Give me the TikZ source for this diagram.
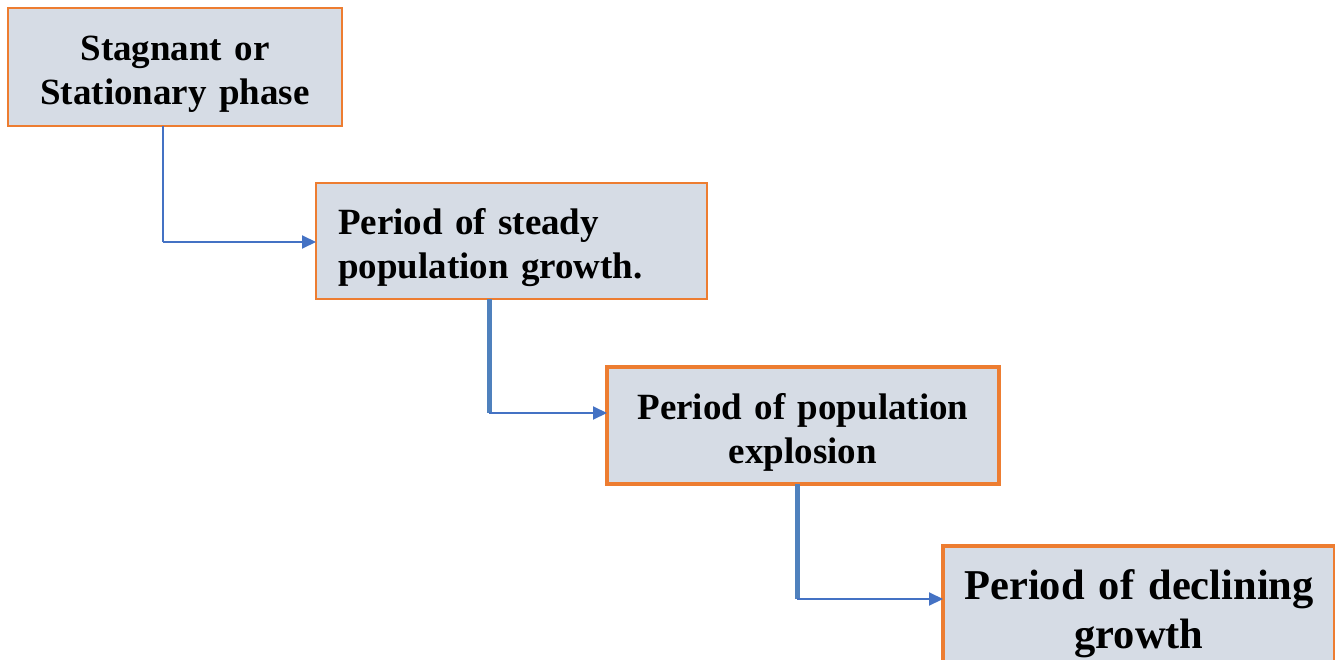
\documentclass[tikz,border=0pt]{standalone}
\usepackage{fontspec}
\setmainfont{Liberation Serif}
\usetikzlibrary{positioning}
\usetikzlibrary{arrows.meta}
\definecolor{boxfill}{HTML}{D6DCE5}
\definecolor{boxline}{HTML}{ED7D31}
\definecolor{linkblue}{HTML}{4472C4}
\definecolor{linkbar}{HTML}{4F81BD}
\tikzset{
    phase/.style = {rectangle, draw=boxline, fill=boxfill, line width=2pt, anchor=north west,
                    inner sep=0pt, outer sep=0pt, align=center, text width=330pt,
                    font=\bfseries\fontsize{37}{44}\selectfont,
                    execute at begin node={\rule{0pt}{39pt}}},
    phaseb/.style = {phase, line width=4pt, text width=388pt},
    hlink/.style = {-{Triangle[length=14pt,width=13pt]}, line width=2pt, linkblue},
    vlink/.style = {line width=2pt, linkblue},
    vlinkb/.style = {line width=5pt, linkbar}
}

\begin{document}
\begin{tikzpicture}[x=1pt,y=-1pt]
\useasboundingbox (0,0) rectangle (1335,660);
\node[phase, minimum width=334pt, minimum height=118pt] at (8,8) (stag) {Stagnant or\\Stationary phase};
\node[phase, minimum width=391pt, minimum height=116pt, text width=347pt, align=left] at (316,183) (steady) {Period of steady\\population growth.};
\node[phaseb, minimum width=392pt, minimum height=117pt] at (607,367) (boom) {Period of population\\explosion};
\node[phaseb, minimum width=392pt, minimum height=117pt, font=\bfseries\fontsize{42.5}{49}\selectfont,
      execute at begin node={\rule{0pt}{49pt}}] at (943,546) (decl) {Period of declining\\growth};
%
\coordinate (k1) at (163,242);
\coordinate (k2) at (489,413);
\coordinate (k3) at (797,599);
%
\draw[vlink] (stag.south -| k1) -- (k1);
\draw[hlink] (k1) -- (k1 -| steady.west);
\draw[vlinkb] (steady.south -| k2) -- (k2);
\draw[hlink] (k2) -- (k2 -| boom.west);
\draw[vlinkb] (boom.south -| k3) -- (k3);
\draw[hlink] (k3) -- (k3 -| decl.west);
\end{tikzpicture}
\end{document}
